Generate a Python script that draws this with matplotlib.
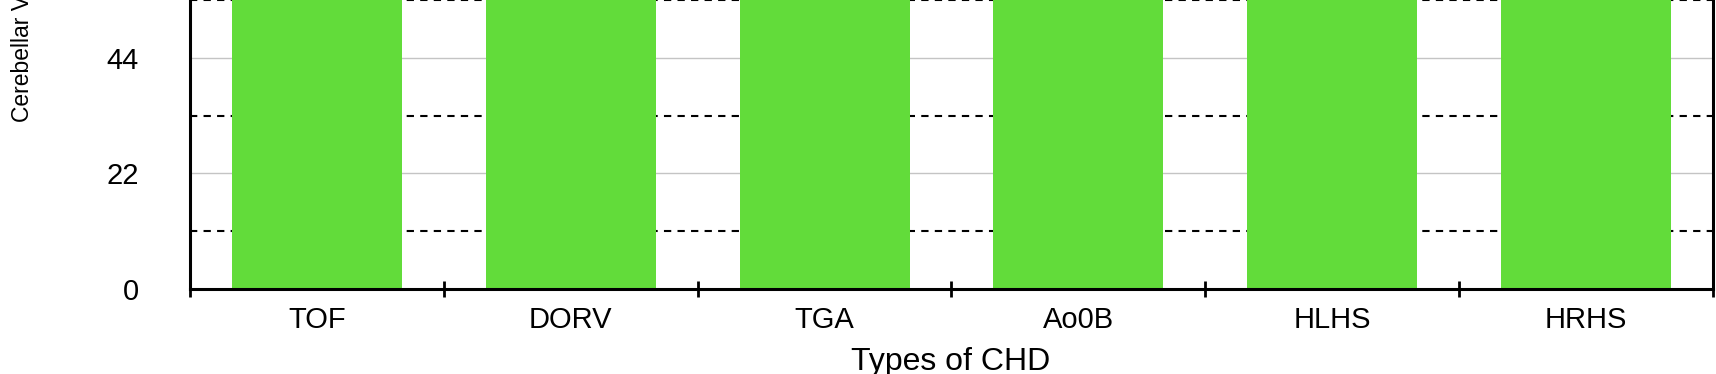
import matplotlib.pyplot as plt
import numpy as np

# data (bars run past the top of the cropped view)
categories = ['TOF', 'DORV', 'TGA', 'Ao0B', 'HLHS', 'HRHS']
volumes = [62, 62, 62, 62, 62, 62]
ytick_vals = [0, 22, 44]
solid_grid = [22, 44]
dashed_grid = [11, 33, 55]

plt.rcParams['font.family'] = ['Liberation Sans', 'DejaVu Sans']

fig = plt.figure(figsize=(17.16, 3.74), dpi=100)
ax = fig.add_axes([190 / 1716, 1 - 289 / 374, (1713 - 190) / 1716, 289 / 374])

x = np.arange(len(categories))
ax.bar(x, volumes, width=0.67, color='#62dc3a', zorder=2)

for v in solid_grid:
    ax.axhline(v, color='#c4c4c4', lw=1, zorder=1)
for v in dashed_grid:
    ax.axhline(v, color='black', lw=1.5, dashes=(3.5, 3), zorder=1)

ax.set_xlim(-0.5, len(categories) - 0.5)
ax.set_ylim(0, 55)

ax.set_xticks(np.arange(len(categories) + 1) - 0.5)
ax.set_xticklabels([])
ax.set_xticks(x, minor=True)
ax.set_xticklabels(categories, minor=True, fontsize=21)
ax.tick_params(axis='x', which='major', direction='inout', length=12, width=2)
ax.tick_params(axis='x', which='minor', length=0, pad=12)

ax.set_yticks(ytick_vals)
ax.set_yticklabels([str(v) for v in ytick_vals], fontsize=21)
ax.tick_params(axis='y', length=0, pad=37)

ax.spines['top'].set_visible(False)
for s in ['left', 'bottom', 'right']:
    ax.spines[s].set_linewidth(2.2)

fig.text(951 / 1716, 4 / 374, 'Types of CHD', ha='center', va='baseline', fontsize=23)
fig.text(23 / 1716, 1 - 122 / 374, 'Cerebellar Volume (mL)', rotation=90,
         ha='center', va='bottom', fontsize=16.5,
         family=['Liberation Sans Narrow', 'Liberation Sans', 'DejaVu Sans'])

fig.savefig('out.png', dpi=100)
